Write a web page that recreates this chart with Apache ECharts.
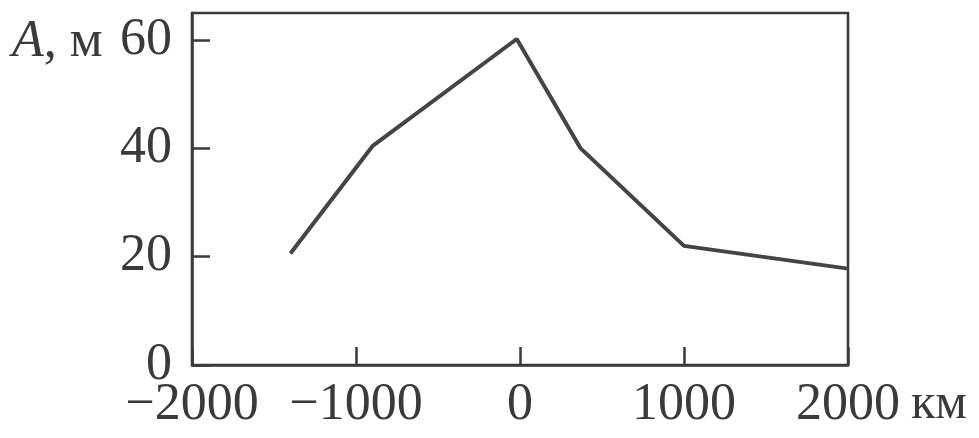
<!DOCTYPE html>
<html>
<head>
<meta charset="utf-8">
<script src="https://cdn.jsdelivr.net/npm/echarts@6/dist/echarts.min.js"></script>
<style>
html,body{margin:0;padding:0;background:#fff;}
#chart{width:979px;height:438px;}
</style>
</head>
<body>
<div id="chart"></div>
<script>
// Data
const distanceKm = [-1400, -900, -20, 370, 1000, 2000];
const amplitudeM = [20.6, 40.4, 60.2, 40.0, 22.0, 17.8];
const xTicks = [-2000, -1000, 0, 1000, 2000];
const yTicks = [0, 20, 40, 60];
const yLabel = 'A';
const yUnit = ', м';
const xUnit = 'км';

const FONT = "'Liberation Serif', 'DejaVu Serif', serif";
const INK = '#3a3a3a';

const chart = echarts.init(document.getElementById('chart'));
chart.setOption({
  animation: false,
  backgroundColor: '#fff',
  grid: {
    left: 192, top: 13, width: 656, height: 352,
    show: true, borderColor: INK, borderWidth: 2.5, backgroundColor: 'transparent'
  },
  xAxis: {
    type: 'value',
    min: xTicks[0], max: xTicks[xTicks.length - 1], interval: 1000,
    splitLine: { show: false },
    axisLine: { show: true, onZero: false, lineStyle: { color: INK, width: 2.5 } },
    axisTick: { show: true, inside: true, length: 18, lineStyle: { color: INK, width: 2.5 } },
    axisLabel: {
      margin: 14, color: INK, fontFamily: FONT, fontSize: 52,
      formatter: v => xTicks.includes(v) ? (v < 0 ? '\u2212' + Math.abs(v) : String(v)) : ''
    }
  },
  yAxis: {
    type: 'value',
    position: 'left',
    min: 0, max: 65, interval: 20,
    splitLine: { show: false },
    axisLine: { show: true, onZero: false, lineStyle: { color: INK, width: 2.5 } },
    axisTick: { show: true, inside: true, length: 18, lineStyle: { color: INK, width: 2.5 } },
    axisLabel: {
      margin: 20, color: INK, fontFamily: FONT, fontSize: 52,
      showMaxLabel: false,
      formatter: v => yTicks.includes(v) ? String(v) : ''
    }
  },
  graphic: [
    {
      type: 'text', left: 12, top: 16,
      style: {
        text: '{i|' + yLabel + '}{n|' + yUnit + '}',
        rich: {
          i: { fontFamily: FONT, fontStyle: 'italic', fontSize: 52, fill: INK },
          n: { fontFamily: FONT, fontSize: 52, fill: INK }
        }
      }
    },
    {
      type: 'text', left: 911, top: 380,
      style: { text: xUnit, fontFamily: FONT, fontSize: 50, fill: INK }
    }
  ],
  series: [{
    type: 'line',
    data: distanceKm.map((x, i) => [x, amplitudeM[i]]),
    showSymbol: false,
    lineStyle: { color: '#444', width: 4 },
    z: 3
  }]
});
</script>
</body>
</html>
